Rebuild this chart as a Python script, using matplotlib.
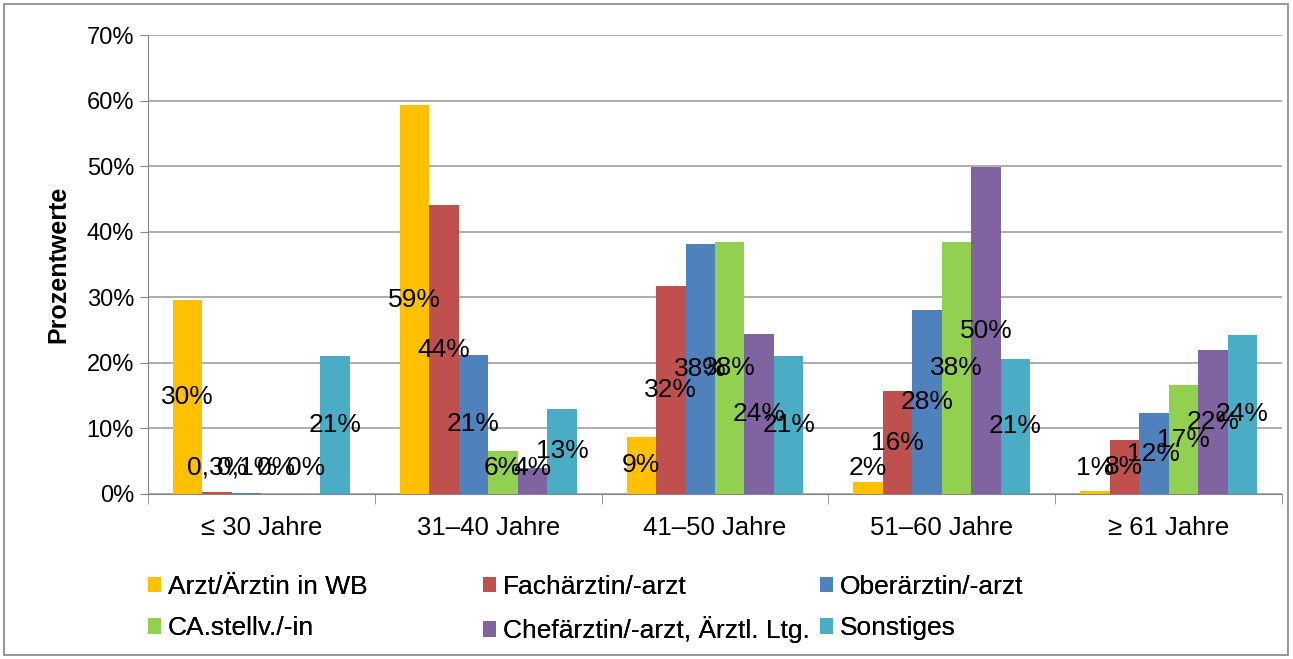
import numpy as np
import matplotlib.pyplot as plt
from matplotlib.patches import Rectangle

plt.rcParams['font.family'] = ['Liberation Sans', 'DejaVu Sans']

# Daten
groups = ['≤ 30 Jahre', '31–40 Jahre', '41–50 Jahre', '51–60 Jahre', '≥ 61 Jahre']
series = ['Arzt/Ärztin in WB', 'Fachärztin/-arzt', 'Oberärztin/-arzt',
          'CA.stellv./-in', 'Chefärztin/-arzt, Ärztl. Ltg.', 'Sonstiges']
arzt_wb = [29.6, 59.3, 8.7, 1.8, 0.5]
facharzt = [0.3, 44.0, 31.7, 15.7, 8.3]
oberarzt = [0.1, 21.2, 38.2, 28.1, 12.3]
ca_stellv = [0.0, 6.5, 38.5, 38.5, 16.6]
chefarzt = [0.0, 4.0, 24.4, 49.8, 22.0]
sonstiges = [21.1, 13.0, 21.1, 20.6, 24.3]
labels = [
    ['30%', '59%', '9%', '2%', '1%'],
    ['0,3%', '44%', '32%', '16%', '8%'],
    ['0,1%', '21%', '38%', '28%', '12%'],
    ['0%', '6%', '38%', '38%', '17%'],
    ['0%', '4%', '24%', '50%', '22%'],
    ['21%', '13%', '21%', '21%', '24%'],
]
values = [arzt_wb, facharzt, oberarzt, ca_stellv, chefarzt, sonstiges]
colors = ['#FFC000', '#C0504D', '#4F81BD', '#92D050', '#8064A2', '#4BACC6']

W, H = 1293, 659
fig = plt.figure(figsize=(W / 100, H / 100), dpi=100)
ax = fig.add_axes([148 / W, 1 - 494 / H, 1134 / W, 459 / H])

x = np.arange(len(groups))
w = 0.13
bars = []
for i, (vals, col, name) in enumerate(zip(values, colors, series)):
    pos = x + (i - 2.5) * w
    b = ax.bar(pos, vals, width=w, color=col, label=name, zorder=3)
    bars.append(b)
    # Datenbeschriftung mittig, bei kleinen Balken etwas angehoben
    for p, v, lab in zip(pos, vals, labels[i]):
        ax.text(p, max(v / 2, 4.0), lab, ha='center', va='center',
                fontsize=19, color='black', zorder=5)

ax.set_xlim(-0.5, len(groups) - 0.5)
ax.set_ylim(0, 70)
ax.set_yticks(np.arange(0, 71, 10))
ax.set_yticklabels([f'{t}%' for t in range(0, 71, 10)], fontsize=17)
ax.set_xticks(x)
ax.set_xticklabels(groups, fontsize=18.5)
ax.set_xticks(np.arange(-0.5, len(groups), 1), minor=True)
ax.tick_params(axis='x', which='major', length=0, pad=16)
ax.tick_params(axis='x', which='minor', length=7, color='#868686', direction='out')
ax.tick_params(axis='y', length=6, color='#868686', direction='out', pad=4)
ax.grid(axis='y', color='#A0A0A0', linewidth=1.2, zorder=0)
for s in ['top', 'right']:
    ax.spines[s].set_visible(False)
ax.spines['left'].set_color('#868686')
ax.spines['bottom'].set_color('#868686')
ax.set_ylabel('Prozentwerte', fontsize=18, fontweight='bold', labelpad=12)

# Legende: drei Spalten, zeilenweise gefuellt
col_x = [135, 470, 807]
for c in range(3):
    idx = [c, c + 3]
    leg = fig.legend([bars[k] for k in idx], [series[k] for k in idx],
                     loc='upper left', bbox_to_anchor=(col_x[c] / W, 1 - 562 / H),
                     frameon=False, fontsize=19, handlelength=0.5, handleheight=0.5,
                     handletextpad=0.25, labelspacing=0.65, borderpad=0)
    fig.add_artist(leg)

fig.patches.append(Rectangle((4 / W, 4 / H), 1284 / W, 651 / H,
                             transform=fig.transFigure, fill=False,
                             edgecolor='#868686', linewidth=1.2))

fig.savefig('out.png', dpi=100)
